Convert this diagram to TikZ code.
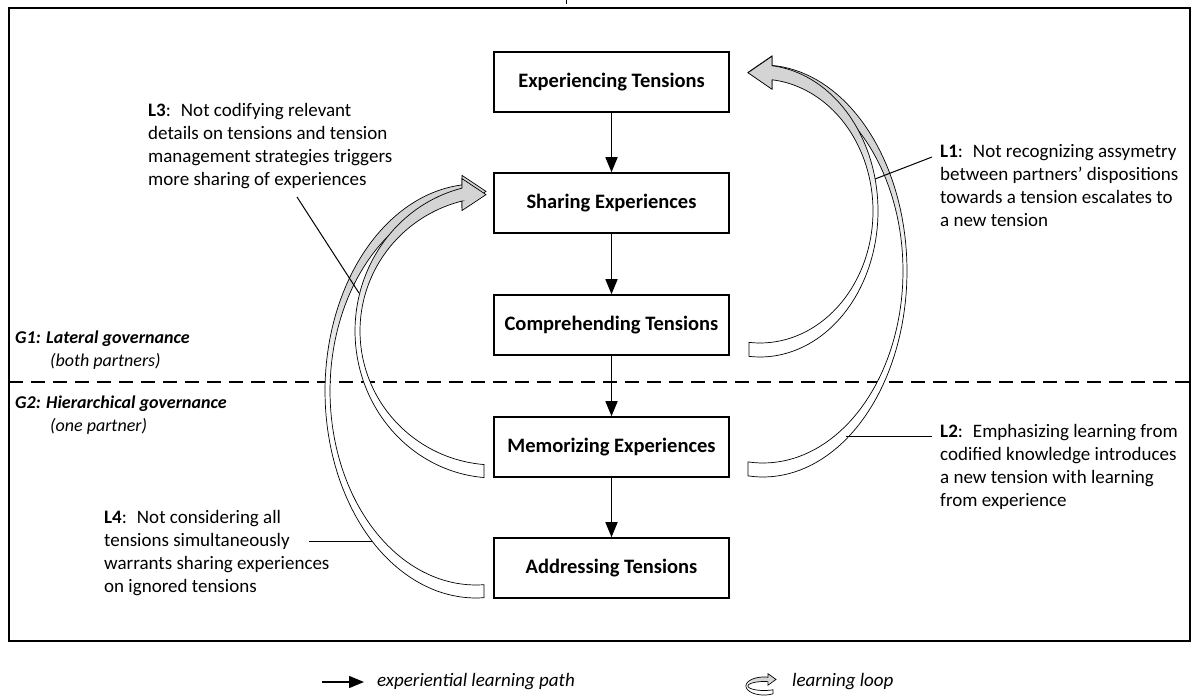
\documentclass[tikz,border=0pt]{standalone}
\usepackage{fontspec}
\setmainfont{Carlito}
\usetikzlibrary{arrows.meta,calc}

% fill of the loop bands: white at the tail, light grey towards the arrow head
\pgfdeclareverticalshading{loopfill}{100bp}{color(0bp)=(white); color(50bp)=(white); color(62bp)=(black!17); color(100bp)=(black!17)}

\def\lbLen{24}
\def\lbBarb{9.5}
% curved band with an arrow head
% #1,#2 centre; #3,#4 outer radii; #5,#6 inner radii;
% #7 x of the tail end; #8 x of the arrow base; #9 side (1 = right, -1 = left)
\newcommand\loopband[9]{%
  \pgfmathsetmacro\lbTo{acos((#7-#1)/#3)}%
  \pgfmathsetmacro\lbTi{acos((#7-#1)/#5)}%
  \pgfmathsetmacro\lbHo{(1-#9)*180-acos((#8-#1)/#3)}%
  \pgfmathsetmacro\lbHi{(1-#9)*180-acos((#8-#1)/#5)}%
  \pgfmathsetmacro\lbYo{#2+#4*sin(\lbHo)}%
  \pgfmathsetmacro\lbYi{#2+#6*sin(\lbHi)}%
  \pgfmathsetmacro\lbTipX{#8-#9*\lbLen}%
  \pgfmathsetmacro\lbTipY{(\lbYo+\lbYi)/2}%
  \path[loopband]
    plot[domain=\lbTo:\lbHo, samples=80, variable=\t] ({#1+#3*cos(\t)},{#2+#4*sin(\t)})
    -- (#8,\lbYo-\lbBarb) -- (\lbTipX,\lbTipY) -- (#8,\lbYi+\lbBarb) -- (#8,\lbYi)
    -- plot[domain=\lbHi:\lbTi, samples=80, variable=\t] ({#1+#5*cos(\t)},{#2+#6*sin(\t)})
    -- cycle;
}

\tikzset{
  stepbox/.style={draw=black, line width=1.6pt, fill=white, minimum width=235pt,
    minimum height=60pt, inner sep=0pt, font=\fontsize{20.5}{24}\selectfont\bfseries},
  pathline/.style={line width=1.6pt, -{Triangle[length=15pt,width=12pt]}},
  loopband/.style={draw=black, line width=0.7pt, shade, shading=loopfill, line join=miter},
  note/.style={anchor=north west, inner sep=0pt, align=left,
    font=\fontsize{19}{23}\selectfont},
  gov/.style={anchor=north west, inner sep=0pt, align=left,
    font=\fontsize{18}{23}\selectfont\itshape},
  leader/.style={line width=1pt},
}

\begin{document}
\begin{tikzpicture}[x=1pt,y=-1pt]
\useasboundingbox (0,0) rectangle (1198,698);

% frame and governance divider
\draw[line width=2pt] (9,8) rectangle (1190,641);
\draw[line width=1.5pt] (566.5,0) -- (566.5,4);
\coordinate (divL) at (9,382);
\coordinate (divR) at (1190,382);
\draw[line width=1.3pt, dash pattern=on 14pt off 8pt] (divL) -- (divR);

% learning loops (drawn first so the boxes sit on top)
\loopband{763}{271}{144}{206}{140}{192}{748}{772}{1}
\loopband{760}{211}{118}{146}{113}{132}{749}{772}{1}
\loopband{476}{391}{151}{207}{146}{194}{484}{462}{-1}
\loopband{495}{331}{140}{147}{135}{134}{484}{462}{-1}

% experiential learning path
\node[stepbox] (exp)  at (611.5,82)  {Experiencing Tensions};
\node[stepbox] (shr)  at (611.5,203) {Sharing Experiences};
\node[stepbox] (cmp)  at (611.5,325) {Comprehending Tensions};
\node[stepbox] (mem)  at (611.5,447) {Memorizing Experiences};
\node[stepbox] (adr)  at (611.5,568) {Addressing Tensions};
\draw[pathline] (exp) -- (shr);
\draw[pathline] (shr) -- (cmp);
\draw[pathline] (cmp) -- (mem);
\draw[pathline] (mem) -- (adr);

% governance labels
\node[gov] (g1) at (15,331) {\textbf{G1: Lateral governance}\\\hspace*{35pt}(both partners)};
\node[gov] (g2) at (15,396) {\textbf{G2: Hierarchical governance}\\\hspace*{35pt}(one partner)};

% loop descriptions
\node[note] (l1) at (940,144) {\textbf{L1}:~ Not recognizing assymetry\\between partners' dispositions\\towards a tension escalates to\\a new tension};
\node[note] (l2) at (940,424) {\textbf{L2}:~ Emphasizing learning from\\codified knowledge introduces\\a new tension with learning\\from experience};
\node[note] (l3) at (148,103) {\textbf{L3}:~ Not codifying relevant\\details on tensions and tension\\management strategies triggers\\more sharing of experiences};
\node[note] (l4) at (104,510) {\textbf{L4}:~ Not considering all\\tensions simultaneously\\warrants sharing experiences\\on ignored tensions};

% leaders from the descriptions to their loops
\coordinate (l1a) at (932,157);  \coordinate (l1b) at (875,179);
\coordinate (l2a) at (932,436);  \coordinate (l2b) at (846,436);
\coordinate (l3a) at (297,197);  \coordinate (l3b) at (359,293);
\coordinate (l4a) at (309,541);  \coordinate (l4b) at (372,541);
\draw[leader] (l1a) -- (l1b);
\draw[leader] (l2a) -- (l2b);
\draw[leader] (l3a) -- (l3b);
\draw[leader] (l4a) -- (l4b);

% legend
\coordinate (lgA) at (322,682);
\coordinate (lgB) at (364,682);
\draw[pathline, line width=1.4pt] (lgA) -- (lgB);
\node[anchor=west, inner sep=0pt, font=\fontsize{19}{23}\selectfont\itshape] (lgp) at (377,682) {experiential learning path};
\begingroup
\def\lbLen{8}\def\lbBarb{3.5}
\loopband{764}{686}{18}{9}{16}{4.5}{773}{768}{-1}
\endgroup
\node[anchor=west, inner sep=0pt, font=\fontsize{19}{23}\selectfont\itshape] (lgl) at (792,682) {learning loop};
\end{tikzpicture}
\end{document}
